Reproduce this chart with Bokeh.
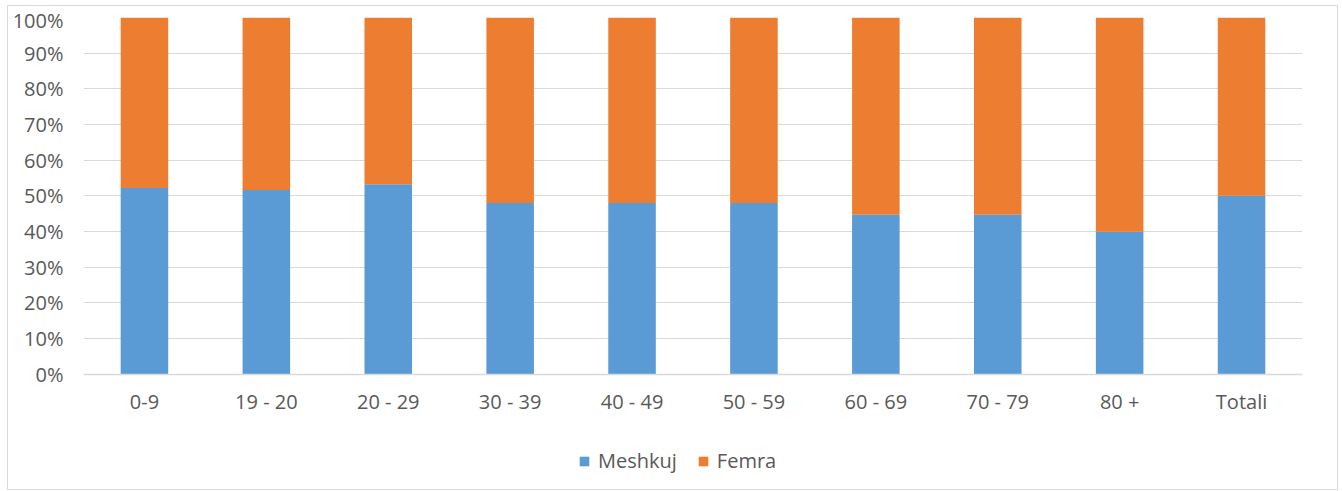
from bokeh.plotting import figure
from bokeh.models import ColumnDataSource, FactorRange, Range1d, NumeralTickFormatter, FixedTicker, Legend, LegendItem
from bokeh.embed import file_html
from bokeh.resources import INLINE

categories = ["0-9", "19 - 20", "20 - 29", "30 - 39", "40 - 49", "50 - 59", "60 - 69", "70 - 79", "80 +", "Totali"]
meshkuj = [0.522, 0.516, 0.532, 0.480, 0.480, 0.480, 0.447, 0.447, 0.399, 0.500]
femra = [round(1 - m, 3) for m in meshkuj]
series = ["Meshkuj", "Femra"]
colors = ["#5B9BD5", "#ED7D31"]

src = ColumnDataSource(dict(cat=categories, Meshkuj=meshkuj, Femra=femra))

FONT = "Open Sans"
TXT = "#595959"

H = 485
TOP, BOTTOM = 11, 4
frame_h = H - TOP - BOTTOM - 2
y_start = 1 - frame_h / 355.0

p = figure(x_range=FactorRange(*categories), y_range=Range1d(y_start, 1),
           width=1331, height=H, output_backend="svg", toolbar_location=None,
           min_border_left=75, min_border_right=37, min_border_top=TOP, min_border_bottom=BOTTOM)
p.styles = {"border": "1px solid #d9d9d9", "box-sizing": "border-box",
            "margin-left": "7px", "margin-top": "5px"}

r = p.vbar_stack(series, x="cat", width=0.39, color=colors, line_color=None, source=src)

p.outline_line_color = None
p.background_fill_color = "white"
p.border_fill_color = "white"

p.xgrid.grid_line_color = None
p.ygrid.grid_line_color = "#d9d9d9"
p.ygrid.grid_line_width = 1

p.yaxis.ticker = FixedTicker(ticks=[i / 10 for i in range(11)])
p.yaxis.formatter = NumeralTickFormatter(format="0%")
p.yaxis.axis_line_color = None
p.yaxis.major_tick_line_color = None
p.yaxis.minor_tick_line_color = None
p.yaxis.major_tick_out = 0
p.yaxis.major_label_standoff = 20

p.xaxis.fixed_location = 0
p.xaxis.axis_line_color = "#d9d9d9"
p.xaxis.axis_line_width = 1.5
p.xaxis.major_tick_line_color = None
p.xaxis.minor_tick_line_color = None
p.xaxis.major_tick_out = 0
p.xaxis.major_label_standoff = 14

for ax in (p.xaxis[0], p.yaxis[0]):
    ax.major_label_text_font = FONT
    ax.major_label_text_font_size = "20px"
    ax.major_label_text_color = TXT

legend = Legend(items=[LegendItem(label=s, renderers=[rr]) for s, rr in zip(series, r)],
                orientation="horizontal", location=(495, 13),
                glyph_width=12, glyph_height=12, label_standoff=8, spacing=20,
                padding=0, margin=0, border_line_color=None, background_fill_alpha=0,
                label_text_font=FONT, label_text_font_size="20px", label_text_color=TXT)
p.add_layout(legend, "center")

open("out.html", "w").write(file_html(p, INLINE))
